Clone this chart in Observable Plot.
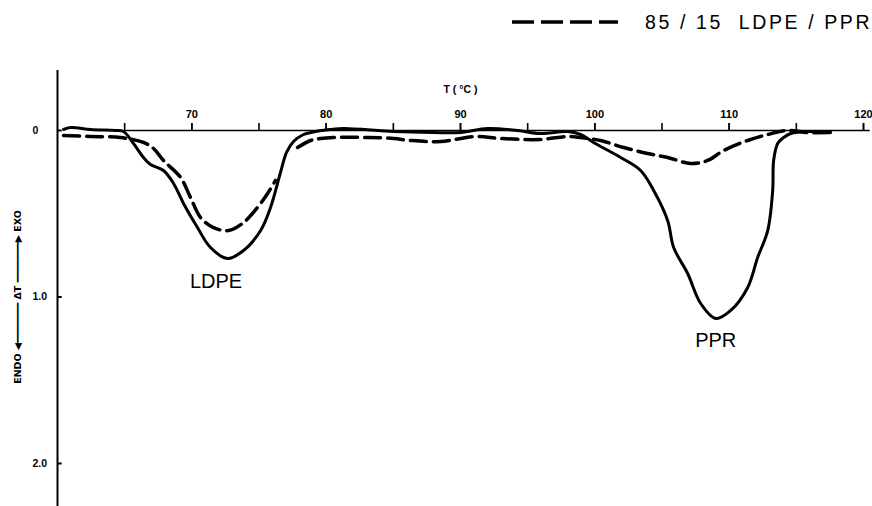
<!DOCTYPE html>
<html>
<head>
<meta charset="utf-8">
<script src="https://cdn.jsdelivr.net/npm/d3@7"></script>
<script src="https://cdn.jsdelivr.net/npm/@observablehq/plot@0.6"></script>
<style>
  html, body { margin: 0; padding: 0; background: #fff; }
  #wrap { position: relative; width: 872px; height: 506px; overflow: hidden; }
  #legend { position: absolute; left: 0; top: 0; width: 872px; height: 45px; }
  #legend svg { position: absolute; left: 0; top: 0; }
</style>
</head>
<body>
<div id="wrap"><div id="chart"></div><div id="legend"></div></div>
<script>
// Solid curve (individual components LDPE and PPR)
const solidT = [60.45, 60.97, 62.46, 64.32, 64.91, 65.66, 66.40, 66.92, 67.89, 68.64, 69.38, 70.42, 71.39, 72.66, 73.85, 75.12, 75.86, 76.60, 77.05, 77.57, 78.32, 79.20, 80.30, 81.30, 85.02, 88.00, 90.01, 92.02, 94.25, 95.96, 97.97, 98.94, 99.91, 101.40, 101.92, 103.41, 104.38, 105.42, 105.87, 106.91, 107.88, 109.00, 110.12, 111.38, 112.12, 112.87, 113.24, 113.31, 113.61, 114.06, 114.58, 115.85, 117.56];
const solidV = [-0.006, -0.018, -0.006, 0.000, 0.006, 0.078, 0.162, 0.204, 0.240, 0.318, 0.438, 0.583, 0.703, 0.769, 0.721, 0.601, 0.462, 0.252, 0.132, 0.066, 0.024, 0.006, -0.006, -0.012, 0.006, 0.012, 0.012, -0.012, 0.000, 0.018, 0.006, 0.024, 0.072, 0.138, 0.162, 0.240, 0.360, 0.540, 0.703, 0.859, 1.039, 1.129, 1.081, 0.943, 0.763, 0.601, 0.360, 0.180, 0.078, 0.042, 0.018, 0.006, 0.012];

// Dashed curve: 85/15 LDPE/PPR blend (null = break in the trace)
const dashT = [60.45, 62.46, 64.69, 66.40, 67.15, 67.89, 69.16, 69.90, 70.65, 71.62, 72.73, 73.85, 74.89, 75.64, 76.23, 77.0, 77.87, 78.84, 79.58, 80.55, 83.08, 85.02, 86.28, 88.52, 91.12, 92.99, 95.96, 97.97, 98.94, 100.43, 102.14, 103.93, 105.42, 107.13, 108.40, 109.59, 111.38, 112.87, 114.36, 115.85, 117.56];
const dashV = [0.030, 0.036, 0.042, 0.072, 0.108, 0.180, 0.282, 0.402, 0.523, 0.583, 0.601, 0.553, 0.462, 0.378, 0.300, null, 0.102, 0.060, 0.048, 0.042, 0.042, 0.048, 0.060, 0.066, 0.036, 0.048, 0.054, 0.036, 0.042, 0.060, 0.102, 0.138, 0.162, 0.198, 0.180, 0.120, 0.060, 0.024, 0.000, 0.012, 0.012];

const xMinorTicks = [65, 70, 75, 80, 85, 90, 95, 100, 105, 110, 115, 120];
const xLabelTicks = [70, 80, 90, 100, 110, 120];
const yTicks = [0, 1.0, 2.0];
const yTickLabels = ["0", "1.0", "2.0"];
const peakLabels = ["LDPE", "PPR"];
const peakT = [71.8, 109.0];
const peakV = [0.943, 1.303];
const legendText = "85 / 15  LDPE / PPR";
const yTitle = "ENDO \u25C0\u2501\u2501\u2501\u2501\u2501\u2501\u2501 \u0394T \u2501\u2501\u2501\u2501\u2501\u2501\u2501\u25B6 EXO";

const solid = solidT.map((t, i) => ({T: t, v: solidV[i]}));
const dashed = dashT.map((t, i) => ({T: t, v: dashV[i]}));
const yTickData = yTicks.map((v, i) => ({v, label: yTickLabels[i]}));
const peaks = peakLabels.map((s, i) => ({s, T: peakT[i], v: peakV[i]}));

const font = "'Liberation Sans', Arial, sans-serif";

const chart = Plot.plot({
  width: 872,
  height: 506,
  marginLeft: 57,
  marginRight: 9,
  marginTop: 130,
  marginBottom: 43,
  style: {fontFamily: font, background: "#fff", color: "#000", overflow: "visible"},
  x: {type: "linear", domain: [60, 120], axis: null, label: null},
  y: {type: "linear", domain: [0, 2.0], reverse: true, axis: null, label: null},
  marks: [
    // y axis line
    Plot.ruleX([60], {y1: -0.36, y2: 2.3, stroke: "#000", strokeWidth: 2}),
    // y ticks
    Plot.ruleY(yTicks, {x1: 60, x2: 60.35, stroke: "#000", strokeWidth: 2}),
    Plot.text(yTickData, {x: 60, y: "v", text: "label", textAnchor: "start", dx: -25, fontSize: 10.5, fontWeight: "bold", fill: "#000"}),
    // y axis title
    Plot.text([yTitle], {x: 60, y: 1.0, dx: -40, rotate: -90, fontSize: 9.5, fontWeight: "bold", fill: "#000", fontFamily: "'DejaVu Sans', sans-serif"}),
    // top x axis
    Plot.ruleY([0], {x1: 65, x2: 120.5, stroke: "#000", strokeWidth: 1.6}),
    Plot.axisX(xMinorTicks, {anchor: "top", tickSize: 8, tickFormat: () => "", strokeWidth: 1.6, label: null}),
    Plot.axisX(xLabelTicks, {anchor: "top", tickSize: 8, tickPadding: 5, fontSize: 11, fontWeight: "bold", label: null, strokeWidth: 1.6}),
    Plot.text(["T ( \u00B0C )"], {x: 90, frameAnchor: "top", dy: -45, fontSize: 10.5, fontWeight: "bold", fill: "#000"}),
    // curves
    Plot.line(solid, {x: "T", y: "v", stroke: "#000", strokeWidth: 3, curve: "catmull-rom"}),
    Plot.line(dashed, {x: "T", y: "v", stroke: "#000", strokeWidth: 3.5, strokeDasharray: "16,7", curve: "catmull-rom"}),
    // peak labels
    Plot.text(peaks, {x: "T", y: "v", text: "s", lineAnchor: "bottom", fontSize: 20, fill: "#000", fontFamily: font, letterSpacing: 1.5})
  ]
});
document.getElementById("chart").appendChild(chart);

// Legend
const lg = d3.select("#legend").append("svg").attr("width", 872).attr("height", 45);
lg.append("line").attr("x1", 512).attr("x2", 618).attr("y1", 22).attr("y2", 22)
  .attr("stroke", "#000").attr("stroke-width", 3.5).attr("stroke-dasharray", "22,7");
lg.append("text").attr("x", 645).attr("y", 29).attr("font-family", font).attr("font-size", 19.5)
  .attr("letter-spacing", 2.6).attr("fill", "#000").attr("xml:space", "preserve").style("white-space", "pre").text(legendText);
</script>
</body>
</html>
